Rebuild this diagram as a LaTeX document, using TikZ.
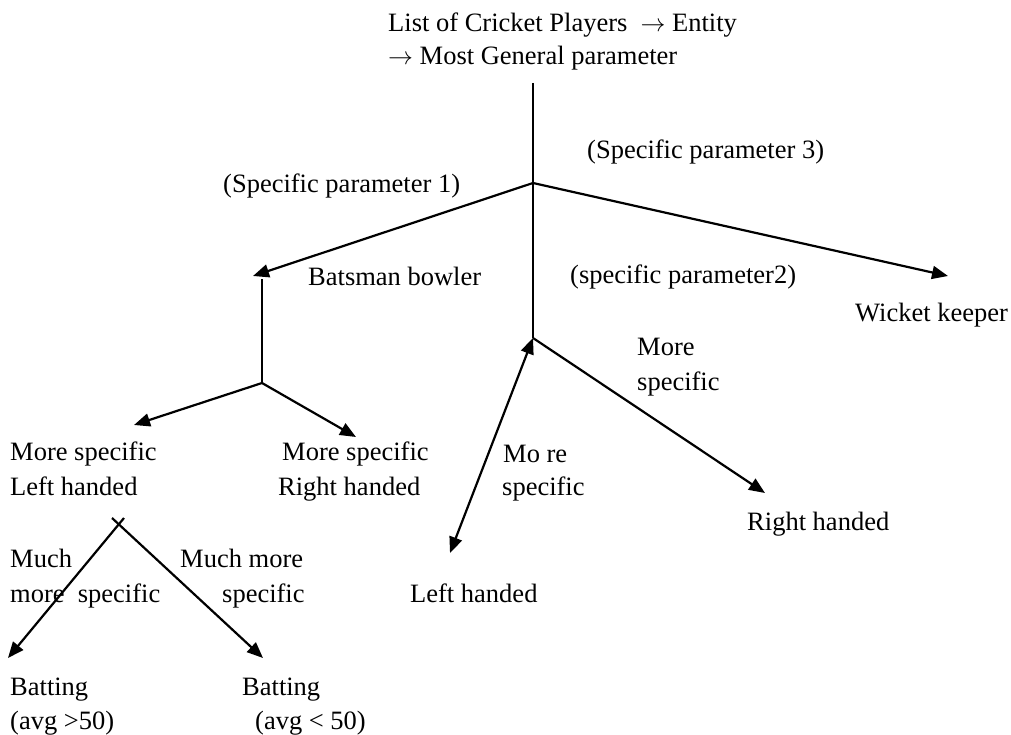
\documentclass[tikz,border=0pt]{standalone}
\usepackage{fontspec}
\setmainfont{Liberation Serif}
\usetikzlibrary{arrows.meta}
\newcommand{\rarr}{$\rightarrow$}
\begin{document}
\begin{tikzpicture}[x=1pt,y=-1pt,
  lbl/.style={anchor=base west,inner sep=0pt,font=\fontsize{26.5}{34}\selectfont},
  conn/.style={line width=2.2pt,line cap=butt},
  arr/.style={conn,-{Triangle[length=16pt,width=13pt]}},
  darr/.style={conn,{Triangle[length=16pt,width=13pt]}-{Triangle[length=16pt,width=13pt]}},
]
\useasboundingbox (0,0) rectangle (1011,735);
% texts
\node[lbl] (t1) at (388,32) {List of Cricket Players\ \ \rarr\ Entity};
\node[lbl] (t2) at (388,65) {\rarr\ Most General parameter};
\node[lbl] (sp3) at (587,159) {(Specific parameter 3)};
\node[lbl] (sp1) at (223,193) {(Specific parameter 1)};
\node[lbl] (bb) at (308,285) {Batsman bowler};
\node[lbl] (sp2) at (570,283) {(specific parameter2)};
\node[lbl] (wk) at (855,321) {Wicket keeper};
\node[lbl] (msa) at (637,355) {More};
\node[lbl] (msb) at (637,390) {specific};
\node[lbl] (mla) at (10,460) {More specific};
\node[lbl] (mlb) at (10,495) {Left handed};
\node[lbl] (mra) at (282,460) {More specific};
\node[lbl] (mrb) at (278,495) {Right handed};
\node[lbl] (moa) at (503,462) {Mo re};
\node[lbl] (mob) at (502,495) {specific};
\node[lbl] (rh) at (747,530) {Right handed};
\node[lbl] (lh) at (410,602) {Left handed};
\node[lbl] (mua) at (10,567) {Much};
\node[lbl] (mub) at (10,602) {more\ \ specific};
\node[lbl] (mma) at (180,567) {Much more};
\node[lbl] (mmb) at (222,602) {specific};
\node[lbl] (b1a) at (10,695) {Batting};
\node[lbl] (b1b) at (10,729) {(avg >50)};
\node[lbl] (b2a) at (242,695) {Batting};
\node[lbl] (b2b) at (255,729) {(avg < 50)};
% junctions and ends
\coordinate (top) at (533,83);
\coordinate (j1) at (533,183);
\coordinate (j2) at (533,338);
\coordinate (j3) at (262,383);
\coordinate (vtop) at (262,279);
\coordinate (tbb) at (253,276);
\coordinate (twk) at (948,276);
\coordinate (tml) at (134,425);
\coordinate (tmr) at (356,437);
\coordinate (tlh) at (450,553);
\coordinate (trh) at (765,493);
\coordinate (xa) at (124,518);
\coordinate (xb) at (112,518);
\coordinate (tba) at (8,658);
\coordinate (tbc) at (263,658);
% connectors
\draw[conn] (top) -- (j2);
\draw[arr] (j1) -- (tbb);
\draw[arr] (j1) -- (twk);
\draw[conn] (j3) -- (vtop);
\draw[arr] (j3) -- (tml);
\draw[arr] (j3) -- (tmr);
\draw[darr] (j2) -- (tlh);
\draw[arr] (j2) -- (trh);
\draw[arr] (xa) -- (tba);
\draw[arr] (xb) -- (tbc);
\end{tikzpicture}
\end{document}
